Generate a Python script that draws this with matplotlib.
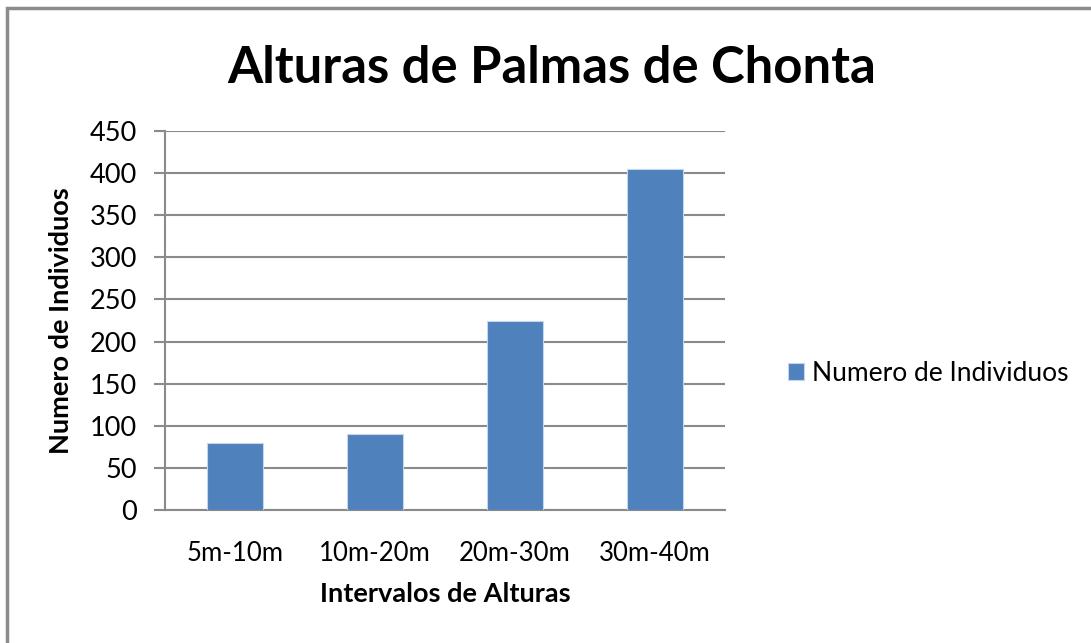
import numpy as np
import matplotlib.pyplot as plt
from matplotlib.patches import Rectangle

categorias = ["5m-10m", "10m-20m", "20m-30m", "30m-40m"]
individuos = [80, 90, 224, 405]
y_ticks = [0, 50, 100, 150, 200, 250, 300, 350, 400, 450]

plt.rcParams['font.family'] = ['Lato', 'DejaVu Sans']

fig = plt.figure(figsize=(10.91, 6.43), dpi=100)
# marco exterior gris
fig.patches.append(Rectangle((0.006, -0.1), 1.1, 1.088, transform=fig.transFigure,
                             fill=False, edgecolor='#8c8c8c', linewidth=2.5))

ax = fig.add_axes([0.1512, 0.2068, 0.5133, 0.5894])
x = np.arange(len(categorias))
ax.bar(x, individuos, width=0.4, color='#4F81BD', edgecolor='#c6d6ea', linewidth=0.8,
       label='Numero de Individuos', zorder=3)

ax.set_xlim(-0.5, len(categorias) - 0.5)
ax.set_ylim(0, 450)
ax.set_yticks(y_ticks)
ax.set_xticks(x)
ax.set_xticklabels(categorias)
ax.grid(axis='y', color='#8a8a8a', linewidth=1.5, zorder=0)
ax.set_axisbelow(True)
for s in ['top', 'right']:
    ax.spines[s].set_visible(False)
for s in ['left', 'bottom']:
    ax.spines[s].set_color('#8a8a8a')
    ax.spines[s].set_linewidth(1.5)
ax.tick_params(axis='y', length=8, width=1.5, color='#8a8a8a', labelsize=19.5, pad=12)
ax.tick_params(axis='x', length=0, labelsize=18.5, pad=22)

ax.set_xlabel("Intervalos de Alturas", fontsize=19.5, fontweight='bold', labelpad=12)
ax.set_ylabel("Numero de Individuos", fontsize=19.5, fontweight='bold', labelpad=12)

fig.text(0.506, 0.893, "Alturas de Palmas de Chonta", ha='center', va='center',
         fontsize=36.5, fontweight='bold')

ax.legend(loc='center left', bbox_to_anchor=(1.07, 0.36), frameon=False, fontsize=19,
          handlelength=0.6, handleheight=0.6, handletextpad=0.3)

plt.savefig("out.png", dpi=100)
